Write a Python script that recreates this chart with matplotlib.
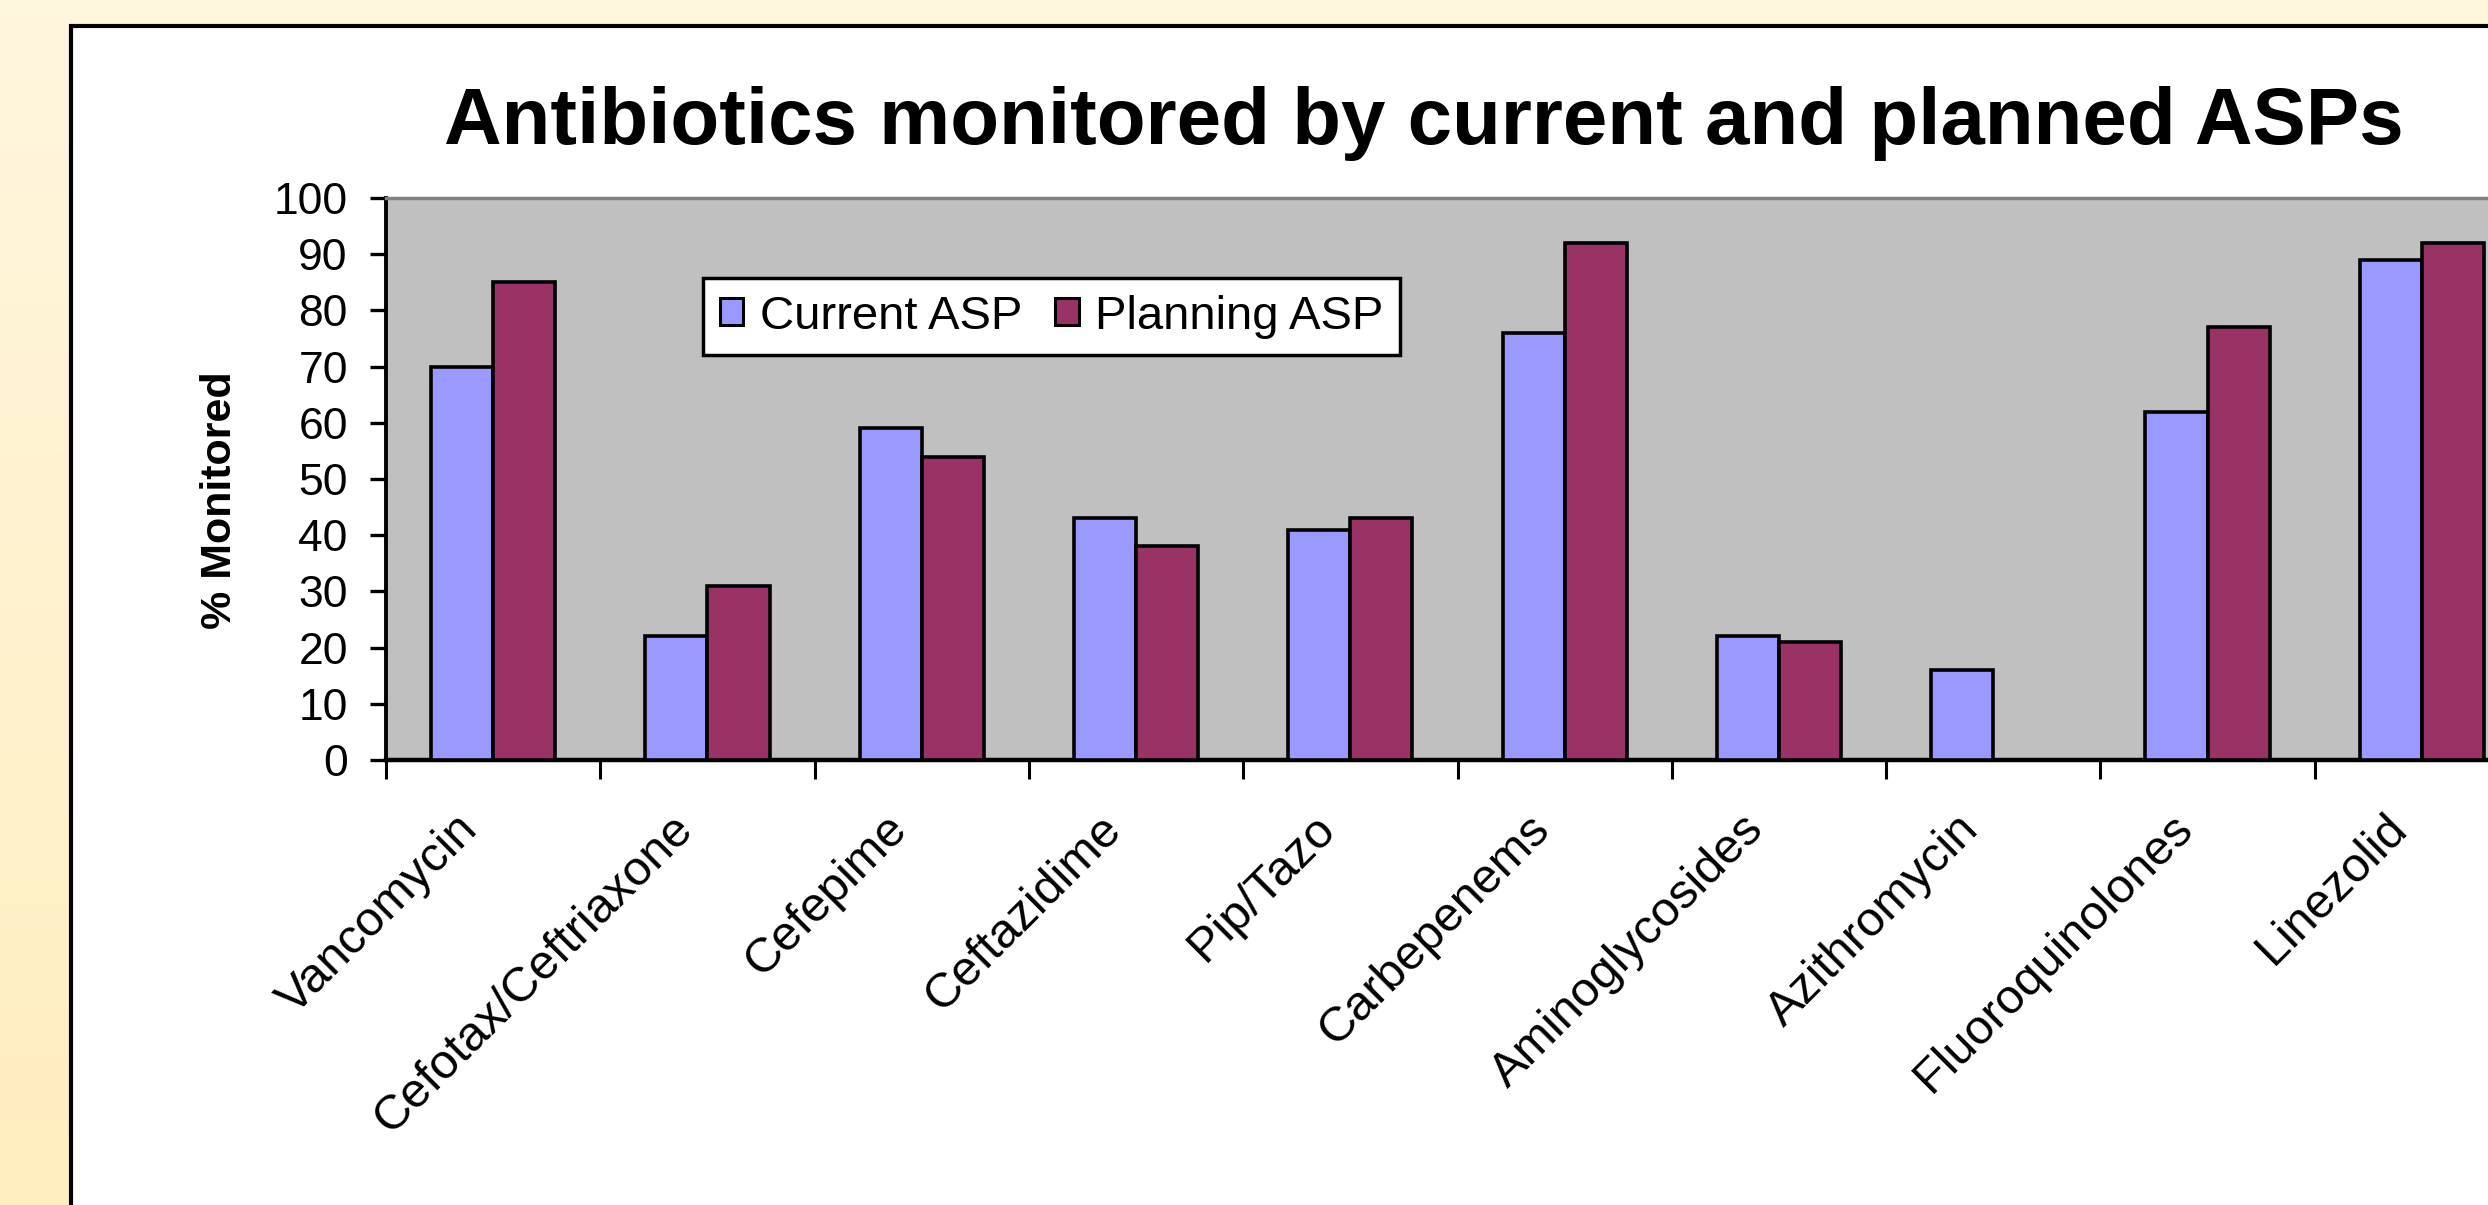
import numpy as np
import matplotlib
matplotlib.use("Agg")
import matplotlib.pyplot as plt
from matplotlib.patches import Rectangle, Patch
from matplotlib.colors import LinearSegmentedColormap
from matplotlib.transforms import ScaledTranslation

# ── Data ────────────────────────────────────────────────────────────────────
categories = ["Vancomycin", "Cefotax/Ceftriaxone", "Cefepime", "Ceftazidime",
              "Pip/Tazo", "Carbepenems", "Aminoglycosides", "Azithromycin",
              "Fluoroquinolones", "Linezolid"]
current_asp = [70, 22, 59, 43, 41, 76, 22, 16, 62, 89]
planning_asp = [85, 31, 54, 38, 43, 92, 21, 0, 77, 92]
series_names = ["Current ASP", "Planning ASP"]
y_ticks = list(range(0, 101, 10))

# ── Colours ─────────────────────────────────────────────────────────────────
CURRENT_CLR = "#9999FF"
PLANNING_CLR = "#993366"
PLOT_BG = "#C0C0C0"
BORDER_GRAY = "#808080"

plt.rcParams.update({
    "font.family": ["Liberation Sans", "DejaVu Sans"],
    "text.color": "black",
})

W, H, DPI = 2488, 1205, 100
fig = plt.figure(figsize=(W / DPI, H / DPI), dpi=DPI)

# cream slide background with a soft vertical gradient
bg = fig.add_axes([0, 0, 1, 1], zorder=-10)
grad = LinearSegmentedColormap.from_list("cream", ["#FFF6DE", "#FFEEBF"])
bg.imshow(np.linspace(0, 1, 256).reshape(-1, 1), aspect="auto", cmap=grad,
          extent=[0, 1, 0, 1])
bg.set_axis_off()

# white chart box (runs off the right and bottom edges)
fig.patches.append(Rectangle((71 / W, -0.05), 1.0, 1 - 26 / H + 0.05,
                             transform=fig.transFigure, facecolor="white",
                             edgecolor="black", linewidth=3, zorder=-5))

# ── Plot area (extends past the right edge, as in the source) ───────────────
left, top, bottom = 386, 198, 760
cat_w = 214.3
ax = fig.add_axes([left / W, 1 - bottom / H, len(categories) * cat_w / W,
                   (bottom - top) / H])
ax.set_facecolor(PLOT_BG)

x = np.arange(len(categories))
bw = 0.29
ax.bar(x - bw / 2, current_asp, width=bw, color=CURRENT_CLR,
       edgecolor="black", linewidth=2.6, label=series_names[0], zorder=3)
ax.bar(x + bw / 2, planning_asp, width=bw, color=PLANNING_CLR,
       edgecolor="black", linewidth=2.6, label=series_names[1], zorder=3)

ax.set_xlim(-0.5, len(categories) - 0.5)
ax.set_ylim(0, 100)
ax.set_yticks(y_ticks)
ax.tick_params(axis="y", direction="out", length=11.5, width=2.4,
               labelsize=32, pad=16)

# boundary ticks on the category axis, names centred under each group
ax.set_xticks(np.arange(len(categories) + 1) - 0.5)
ax.set_xticklabels([])
ax.tick_params(axis="x", which="major", direction="out", length=14, width=2.2)
ax.set_xticks(x, minor=True)
ax.set_xticklabels(categories, minor=True, rotation=45, ha="right",
                   va="center", rotation_mode="anchor", fontsize=35)
ax.tick_params(axis="x", which="minor", length=0, pad=0)
shift = ScaledTranslation(-0.22, -0.62, fig.dpi_scale_trans)
for lbl in ax.get_xticklabels(minor=True):
    lbl.set_transform(lbl.get_transform() + shift)

for side in ("left", "bottom"):
    ax.spines[side].set_color("black")
ax.spines["left"].set_linewidth(2.8)
ax.spines["bottom"].set_linewidth(3.2)
ax.spines["top"].set_color(BORDER_GRAY)
ax.spines["top"].set_linewidth(2.5)
ax.spines["right"].set_visible(False)

ax.set_ylabel("% Monitored", fontsize=31, fontweight="bold")
ax.yaxis.set_label_coords((240 - left) / (len(categories) * cat_w), 0.463)

# ── Title ───────────────────────────────────────────────────────────────────
fig.text(1424 / W, 1 - 144 / H, "Antibiotics monitored by current and planned ASPs",
         ha="center", va="baseline", fontsize=57.5, fontweight="bold")

# ── Legend ──────────────────────────────────────────────────────────────────
handles = [Patch(facecolor=CURRENT_CLR, edgecolor="black", linewidth=2.2),
           Patch(facecolor=PLANNING_CLR, edgecolor="black", linewidth=2.2)]
leg = fig.legend(handles, series_names, loc="upper left",
                 bbox_to_anchor=(703 / W, 1 - 278 / H), bbox_transform=fig.transFigure,
                 ncol=2, fontsize=34, frameon=True, fancybox=False,
                 handlelength=0.5, handleheight=0.5, handletextpad=0.35,
                 columnspacing=0.7, borderpad=0.35, borderaxespad=0)
leg.get_frame().set_edgecolor("black")
leg.get_frame().set_linewidth(2.5)
leg.get_frame().set_facecolor("white")
leg.get_frame().set_alpha(1)

fig.savefig("out.png", dpi=DPI)
